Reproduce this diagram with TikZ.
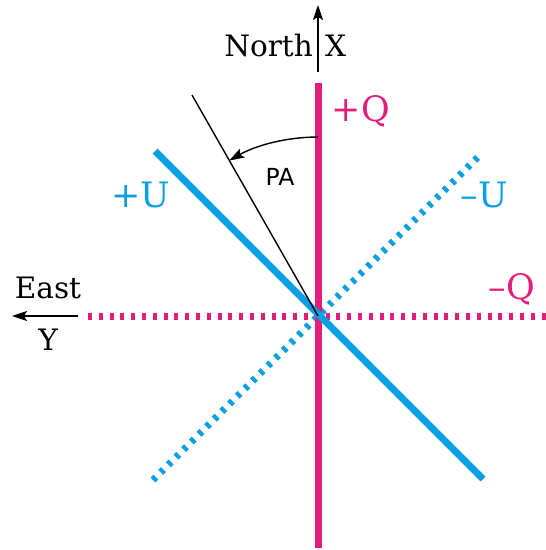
\documentclass[tikz,border=0pt]{standalone}
\usepackage{fontspec}
\setmainfont{DejaVu Serif}
\setsansfont{DejaVu Sans}
\usetikzlibrary{arrows.meta}
\definecolor{qmag}{RGB}{226,30,125}
\definecolor{ublue}{RGB}{8,160,226}
\tikzset{
  qline/.style={qmag, line width=7pt},
  uline/.style={ublue, line width=7pt},
  dotline/.style={dash pattern=on 4pt off 6.8pt},
  axisarrow/.style={black, line width=1.4pt, -{Stealth[length=15pt,width=10pt,inset=3pt]}},
  lbl/.style={inner sep=0pt, font=\fontsize{29.5}{31}\selectfont},
  biglbl/.style={inner sep=0pt, font=\fontsize{35}{37}\selectfont},
}
\begin{document}
\begin{tikzpicture}[x=1pt,y=-1pt]
\useasboundingbox (0,0) rectangle (546,550);
\coordinate (O) at (318,316);
\coordinate (Qtop) at (318,83);
\coordinate (Qbot) at (318,548);
\coordinate (Qleft) at (88,316);
\coordinate (Qright) at (546,316);
\coordinate (Ua) at (155,151);
\coordinate (Ub) at (483,479);
\coordinate (Uc) at (153,480);
\coordinate (Ud) at (481,154);
\coordinate (PAend) at (192,95);
\coordinate (Nfrom) at (318,72);
\coordinate (Nto) at (318,5);
\coordinate (Efrom) at (78,316);
\coordinate (Eto) at (12,316);
% dotted lines
\draw[qline, dotline] (Qleft) -- (Qright);
\draw[uline, dotline] (Uc) -- (Ud);
% solid lines
\draw[qline] (Qtop) -- (Qbot);
\draw[uline] (Ua) -- (Ub);
% PA line and arc
\draw[black, line width=1.4pt] (O) -- (PAend);
\draw[axisarrow] ([shift={(-90:179)}]O) arc[start angle=-90, end angle=-119.7, radius=179];
% axes
\draw[axisarrow] (Nfrom) -- (Nto);
\draw[axisarrow] (Efrom) -- (Eto);
% labels
\node[lbl, anchor=base east] (north) at (313,56) {North};
\node[lbl, anchor=base west] (xl) at (325,56) {X};
\node[lbl, anchor=base] (east) at (48,298) {East};
\node[lbl, anchor=base] (yl) at (48,350) {Y};
\node[biglbl, qmag, anchor=base] (pq) at (361,121) {+Q};
\node[biglbl, qmag, anchor=base] (mq) at (512,299) {–Q};
\node[biglbl, ublue, anchor=base] (pu) at (141,207) {+U};
\node[biglbl, ublue, anchor=base] (mu) at (484,207) {–U};
\node[inner sep=0pt, anchor=base, font=\sffamily\fontsize{23.5}{26}\selectfont] (pa) at (280,185) {PA};
\end{tikzpicture}
\end{document}
